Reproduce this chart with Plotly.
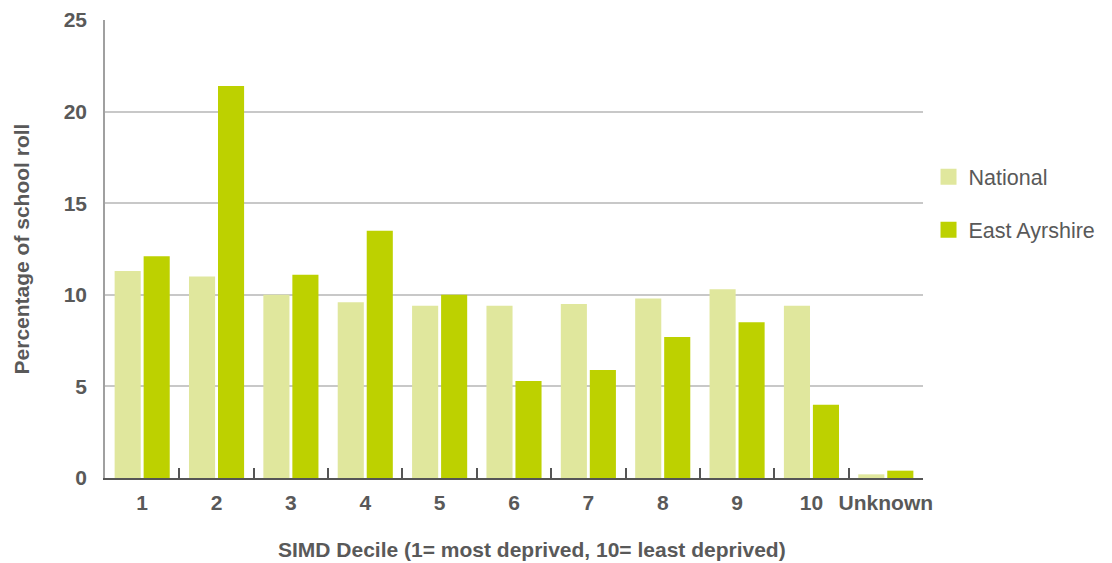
import plotly.graph_objects as go

# SIMD deciles and share of school roll (%) in each
deciles = ["1", "2", "3", "4", "5", "6", "7", "8", "9", "10", "Unknown"]
national = [11.3, 11.0, 10.0, 9.6, 9.4, 9.4, 9.5, 9.8, 10.3, 9.4, 0.2]
east_ayrshire = [12.1, 21.4, 11.1, 13.5, 10.0, 5.3, 5.9, 7.7, 8.5, 4.0, 0.4]

series_names = ["National", "East Ayrshire"]
series_colors = ["#e0e79d", "#bdd100"]

FONT = "Liberation Sans, Arial, sans-serif"
GREY = "#595959"
SIZE = 21

fig = go.Figure()
for name, values, color in zip(series_names, [national, east_ayrshire], series_colors):
    fig.add_trace(go.Bar(
        x=deciles, y=values, name=name,
        marker=dict(color=color, line=dict(width=0)),
        showlegend=False,
    ))

# Larger square swatches for the legend
for i, (name, color) in enumerate(zip(series_names, series_colors)):
    fig.add_trace(go.Scatter(
        x=[None], y=[None], name=name, mode="markers",
        marker=dict(symbol="square", size=16, color=color),
        legendgroup=f"g{i}", showlegend=True,
    ))

fig.update_layout(
    width=1112, height=563,
    margin=dict(l=105, r=189, t=20, b=85),
    paper_bgcolor="white", plot_bgcolor="white",
    barmode="group", bargap=0.22, bargroupgap=0.1,
    font=dict(family=FONT, color=GREY, size=SIZE),
    legend=dict(
        xref="container", yref="container",
        x=0.835, xanchor="left", y=0.639, yanchor="middle",
        traceorder="grouped", tracegroupgap=22,
        font=dict(family=FONT, size=21.5, color=GREY),
        itemsizing="trace", bgcolor="rgba(0,0,0,0)",
    ),
    showlegend=True,
)

fig.update_xaxes(
    type="category", automargin=False, tickangle=0,
    showline=True, linecolor="#555555", linewidth=2,
    ticks="inside", tickson="boundaries", ticklen=10, tickcolor="#555555", tickwidth=1.5,
    tickfont=dict(family=FONT, size=SIZE, color=GREY, weight="bold"),
    ticklabelstandoff=5,
    showgrid=False, zeroline=False,
    range=[-0.5, len(deciles) - 0.5],
)

fig.update_yaxes(
    range=[0, 25], dtick=5, tick0=0, automargin=False,
    showline=True, linecolor="#a0a0a0", linewidth=1.5,
    showgrid=True, gridcolor="#c8c8c8", gridwidth=1.5,
    zeroline=False, ticks="",
    tickfont=dict(family=FONT, size=SIZE, color=GREY, weight="bold"),
    ticklabelstandoff=12,
    title=dict(text="Percentage of school roll", standoff=28,
               font=dict(family=FONT, size=SIZE, color=GREY, weight="bold")),
)

fig.add_annotation(
    text="<b>SIMD Decile (1= most deprived, 10= least deprived)</b>",
    xref="paper", yref="paper", x=0.522, y=-0.157,
    xanchor="center", yanchor="middle", showarrow=False,
    font=dict(family=FONT, size=SIZE, color=GREY),
)

fig.write_html("out.html")
